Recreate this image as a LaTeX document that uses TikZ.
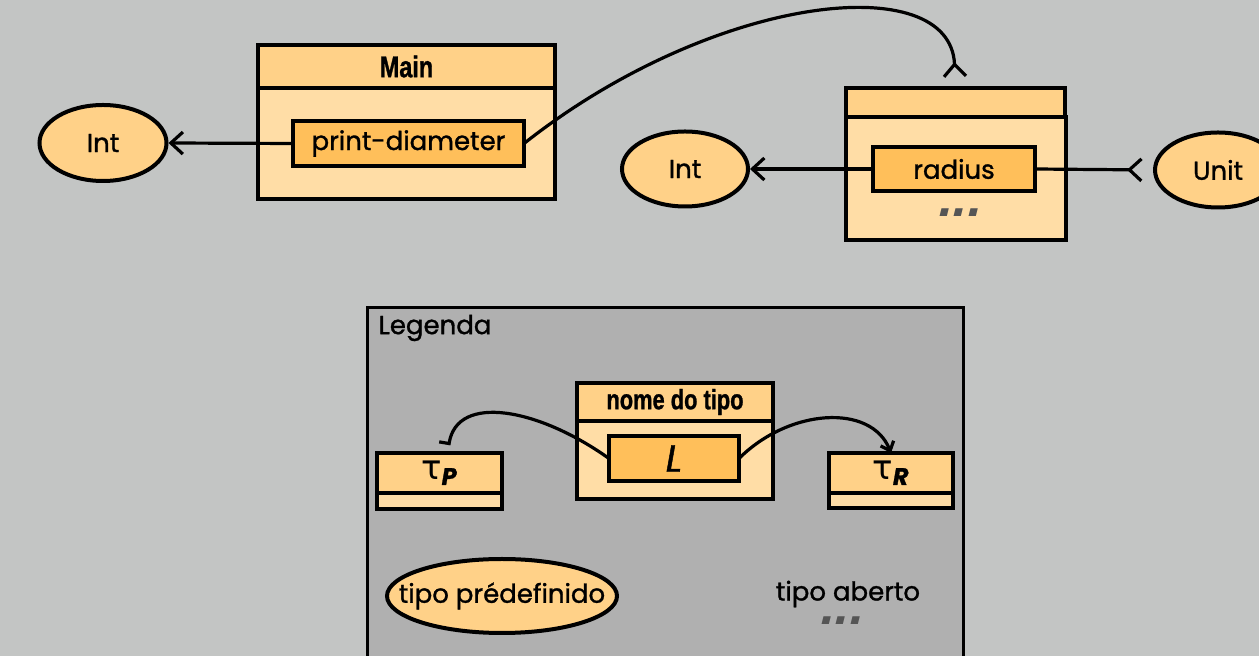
\documentclass[tikz,border=0pt]{standalone}
\usepackage{fontspec}
\setmainfont{Poppins}[FakeBold=1.2]
\newfontfamily\headfont[FakeStretch=0.78,FakeBold=1]{Liberation Sans}
\newfontfamily\dotfont[FakeSlant=0.25]{Liberation Sans}
\newfontfamily\grkfont{DejaVu Sans}
\usetikzlibrary{arrows.meta,positioning,shapes.geometric}
\definecolor{bgc}{RGB}{195,197,196}
\definecolor{legc}{RGB}{176,176,176}
\definecolor{hdc}{RGB}{255,209,136}
\definecolor{bdc}{RGB}{255,221,166}
\definecolor{fldc}{RGB}{255,191,90}
\definecolor{dotc}{RGB}{85,85,85}

\begin{document}
\begin{tikzpicture}[x=0.5pt,y=-0.5pt,>={Straight Barb[length=6pt,width=11pt]},line width=1.6pt,font=\fontsize{13}{15}\selectfont]
\tikzstyle{hd}=[draw,fill=hdc,line width=2pt,outer sep=0pt,inner sep=0pt,font=\headfont\bfseries\fontsize{15}{16}\selectfont]
\tikzstyle{bd}=[draw,fill=bdc,line width=2pt,outer sep=0pt,inner sep=0pt]
\tikzstyle{fld}=[draw,fill=fldc,line width=2pt,outer sep=0pt,inner sep=0pt]
\tikzstyle{ty}=[draw,ellipse,fill=hdc,line width=2pt,inner sep=0pt]
\tikzstyle{dts}=[text=dotc,inner sep=0pt,text height=3pt,text depth=0pt,font=\dotfont\bfseries\fontsize{26}{26}\selectfont]
\fill[bgc] (0,0) rectangle (1259,656);
\useasboundingbox (0,0) rectangle (1259,656);
% Main
\node[hd,minimum width=148.5pt,minimum height=21.5pt] (mainhd) at (406.5,66.5) {Main};
\node[bd,minimum width=148.5pt,minimum height=55.5pt,anchor=north] (mainbd) at (mainhd.south) {};
\node[fld,minimum width=115.5pt,minimum height=22.5pt] (pd) at (408.5,143.5) {print-diameter};
\node[ty,minimum width=63.5pt,minimum height=38pt] (intl) at (103,143) {Int};
\draw[->] (pd.west) -- (intl.east);
% the other type
\node[hd,minimum width=109.5pt,minimum height=14.5pt] (rhd) at (955.5,102.5) {};
\node[bd,minimum width=110pt,minimum height=61.5pt,anchor=north] (rbd) at (rhd.south) {};
\node[fld,minimum width=81pt,minimum height=22pt] (rad) at (954,169) {radius};
\node[dts] (rdots) at (958,214) {...};
\node[ty,minimum width=63pt,minimum height=37.5pt] (intr) at (685,169) {Int};
\node[ty,minimum width=63pt,minimum height=37.5pt] (unit) at (1218,170) {Unit};
\draw[->] (rad.west) -- (intr.east);
\draw[-{Straight Barb[reversed,length=6pt,width=11pt]},shorten >=5pt] (rad.east) -- (unit.west);
\draw[-{Straight Barb[reversed,length=6pt,width=11pt]},shorten >=5pt] (pd.east) .. controls +(190,-150) and +(-5,-120) .. (rhd.north);
% Legenda
\node[draw,fill=legc,line width=1.5pt,minimum width=298pt,minimum height=200pt,anchor=north west,outer sep=0pt] (leg) at (367,308) {};
\node[anchor=west,inner sep=0pt] (legt) at (377,328) {Legenda};
\node[hd,minimum width=98pt,minimum height=19pt,font=\headfont\bfseries\fontsize{14}{15}\selectfont] (nthd) at (675,402) {nome do tipo};
\node[bd,minimum width=98pt,minimum height=39pt,anchor=north] (ntbd) at (nthd.south) {};
\node[fld,minimum width=65pt,minimum height=22.5pt,font=\itshape\fontsize{19}{19}\selectfont] (lbl) at (674,458.5) {L};
\node[hd,minimum width=62.5pt,minimum height=20pt,font=\fontsize{17}{17}\selectfont] (tp) at (439.5,473) {{\grkfont τ}\textsubscript{\textbf{\textit{P}}}};
\node[bd,minimum width=62.5pt,minimum height=8pt,anchor=north] (tpb) at (tp.south) {};
\node[hd,minimum width=62pt,minimum height=20pt,font=\fontsize{17}{17}\selectfont] (tr) at (891,473) {{\grkfont τ}\textsubscript{\textbf{\textit{R}}}};
\node[bd,minimum width=62pt,minimum height=7.5pt,anchor=north] (trb) at (tr.south) {};
\draw[-{Bar[right,width=10pt]},shorten >=4pt] (lbl.west) .. controls +(-70,-50) and +(10,-60) .. ([xshift=4pt]tp.north);
\draw[-{Straight Barb[length=4pt,width=7pt]}] (lbl.east) .. controls +(50,-50) and +(-20,-50) .. (tr.north);
\node[ty,minimum width=115pt,minimum height=37pt,inner xsep=-11pt] (pre) at (502,596) {tipo prédefinido};
\node[inner sep=1pt] (ab) at (848,594) {tipo aberto};
\node[dts] (abdots) at (840,622) {...};
\end{tikzpicture}
\end{document}
